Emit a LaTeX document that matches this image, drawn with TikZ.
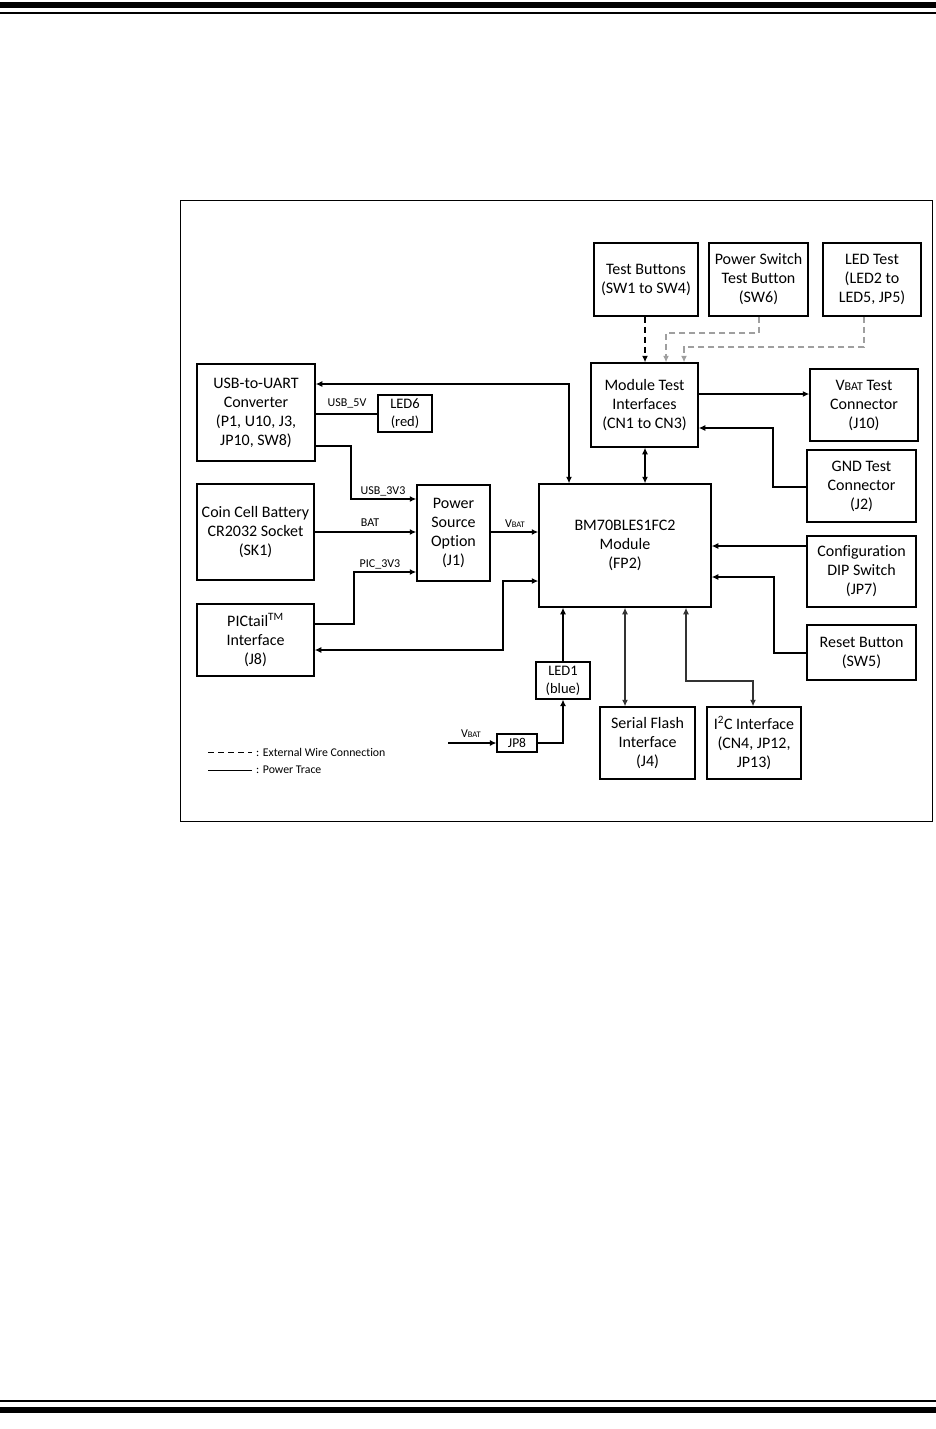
\documentclass[tikz,border=0pt]{standalone}
\usepackage{fontspec}
\setmainfont{Carlito}[Ligatures={NoCommon}]
\usetikzlibrary{arrows.meta}
\begin{document}
\begin{tikzpicture}[x=1pt,y=-1pt,
  box/.style={draw, line width=1.5pt, inner sep=0pt, align=center, font=\fontsize{16}{19}\selectfont},
  sbox/.style={box, font=\fontsize{14.5}{18}\selectfont},
  tip/.style={-{Latex[length=6.5pt,width=6pt]}},
  bitip/.style={{Latex[length=6.5pt,width=6pt]}-{Latex[length=6.5pt,width=6pt]}},
  sig/.style={line width=1.1pt},
  power/.style={line width=2pt},
  ext/.style={line width=1.1pt, dash pattern=on 6pt off 4pt},
  extgray/.style={ext, draw=gray!75},
  lbl/.style={font=\fontsize{12}{13}\selectfont, inner sep=0pt},
  leg/.style={font=\fontsize{11.8}{13}\selectfont, inner sep=0pt, anchor=west}
]
\useasboundingbox (0,0) rectangle (936,1429);
% page rules
\fill (0,2) rectangle (936,8);
\fill (0,12) rectangle (936,14);
\fill (0,1400) rectangle (936,1402);
\fill (0,1407) rectangle (936,1413);
% frame
\draw[line width=0.9pt] (180,200) rectangle (932,821);

% boxes
\node[box, minimum width=118, minimum height=97] (usb) at (256,412.5) {USB-to-UART\\Converter\\(P1, U10, J3,\\JP10, SW8)};
\node[sbox, minimum width=54, minimum height=37] (led6) at (405,413.5) {LED6\\(red)};
\node[box, minimum width=104, minimum height=73] (tb) at (646,279.5) {Test Buttons\\(SW1 to SW4)};
\node[box, minimum width=99, minimum height=73] (psw) at (758.5,279.5) {Power Switch\\Test Button\\(SW6)};
\node[box, minimum width=98, minimum height=73] (ledt) at (872,279.5) {LED Test\\(LED2 to\\LED5, JP5)};
\node[box, minimum width=107, minimum height=84] (mti) at (644.5,405) {Module Test\\Interfaces\\(CN1 to CN3)};
\node[box, minimum width=108, minimum height=72] (vbt) at (864,405) {V{\fontsize{12}{19}\selectfont BAT} Test\\Connector\\(J10)};
\node[box, minimum width=109, minimum height=72] (gnd) at (861.5,486) {GND Test\\Connector\\(J2)};
\node[box, minimum width=117, minimum height=96] (coin) at (255.5,532) {Coin Cell Battery\\CR2032 Socket\\(SK1)};
\node[box, minimum width=73, minimum height=96] (pso) at (453.5,533) {Power\\Source\\Option\\(J1)};
\node[box, minimum width=117, minimum height=72] (pic) at (255.5,640) {PICtail\textsuperscript{TM}\\Interface\\(J8)};
\node[box, minimum width=172, minimum height=123] (bm) at (625,545.5) {BM70BLES1FC2\\Module\\(FP2)};
\node[box, minimum width=109, minimum height=71] (cfg) at (861.5,571.5) {Configuration\\DIP Switch\\(JP7)};
\node[box, minimum width=109, minimum height=55] (rst) at (861.5,652.5) {Reset Button\\(SW5)};
\node[sbox, line width=1.2pt, minimum width=54, minimum height=37] (led1) at (563,680.5) {LED1\\(blue)};
\node[sbox, line width=1.2pt, font=\fontsize{13.5}{15}\selectfont, minimum width=40, minimum height=18] (jp8) at (517,743) {JP8};
\node[box, minimum width=95, minimum height=72] (sf) at (647.5,743) {Serial Flash\\Interface\\(J4)};
\node[box, minimum width=94, minimum height=72] (i2c) at (754,743) {I\textsuperscript{2}C Interface\\(CN4, JP12,\\JP13)};

% power traces
\draw[power] (usb.east |- led6.west) -- (led6.west);
\node[lbl] (l5v) at (347,403) {USB\_5V};
\draw[power, tip] (usb.east |- 0,446) -- (351,446) -- (351,499) -- (pso.west |- 0,499);
\node[lbl] (l3v3) at (383,491) {USB\_3V3};
\draw[power, tip] (coin.east |- 0,532) -- (pso.west |- 0,532);
\node[lbl] (lbat) at (370,523) {BAT};
\draw[power, tip] (pic.east |- 0,624) -- (354,624) -- (354,572) -- (pso.west |- 0,572);
\node[lbl] (lpic) at (380,564) {PIC\_3V3};
\draw[power, tip] (pso.east |- 0,532) -- (bm.west |- 0,532);
\node[lbl] (lvbat) at (515,524) {V{\fontsize{8.5}{9}\selectfont BAT}};

% signal connections
\draw[sig, bitip] (usb.east |- 0,384) -- (569,384) -- (bm.north -| 569,0);
\draw[sig, bitip] (bm.west |- 0,581) -- (503,581) -- (503,650) -- (pic.east |- 0,650);
\draw[sig, bitip] (mti.south -| 645,0) -- (bm.north -| 645,0);
\draw[sig, tip] (mti.east |- 0,394) -- (vbt.west |- 0,394);
\draw[sig, tip] (gnd.west |- 0,487) -- (773,487) -- (773,428) -- (mti.east |- 0,428);
\draw[sig, tip] (cfg.west |- 0,546) -- (bm.east |- 0,546);
\draw[sig, tip] (rst.west |- 0,653) -- (774,653) -- (774,577) -- (bm.east |- 0,577);
\draw[sig, tip] (led1.north) -- (led1.north |- bm.south);
\draw[sig, tip] (jp8.east) -| (led1.south);
\coordinate (vin) at (448,743);
\draw[sig, tip] (vin) -- (jp8.west);
\node[lbl] (lvin) at (471,734) {V{\fontsize{8.5}{9}\selectfont BAT}};
\draw[sig, draw=black!80, bitip] (bm.south -| 625,0) -- (sf.north -| 625,0);
\draw[sig, draw=black!80, bitip] (bm.south -| 686,0) -- (686,681) -- (753,681) -- (i2c.north -| 753,0);

% external wire connections
\draw[ext, tip] (tb.south -| 645,0) -- (mti.north -| 645,0);
\draw[extgray, tip] (psw.south -| 759,0) -- (759,333) -- (666,333) -- (mti.north -| 666,0);
\draw[extgray, tip] (ledt.south -| 864,0) -- (864,347) -- (684,347) -- (mti.north -| 684,0);

% legend
\coordinate (lga) at (208,752);
\coordinate (lgb) at (252,752);
\coordinate (lgc) at (208,770);
\coordinate (lgd) at (252,770);
\draw[line width=1pt, dash pattern=on 6pt off 4pt] (lga) -- (lgb);
\node[leg] (lg1) at (256,752) {: External Wire Connection};
\draw[line width=1pt] (lgc) -- (lgd);
\node[leg] (lg2) at (256,770) {: Power Trace};
\end{tikzpicture}
\end{document}
